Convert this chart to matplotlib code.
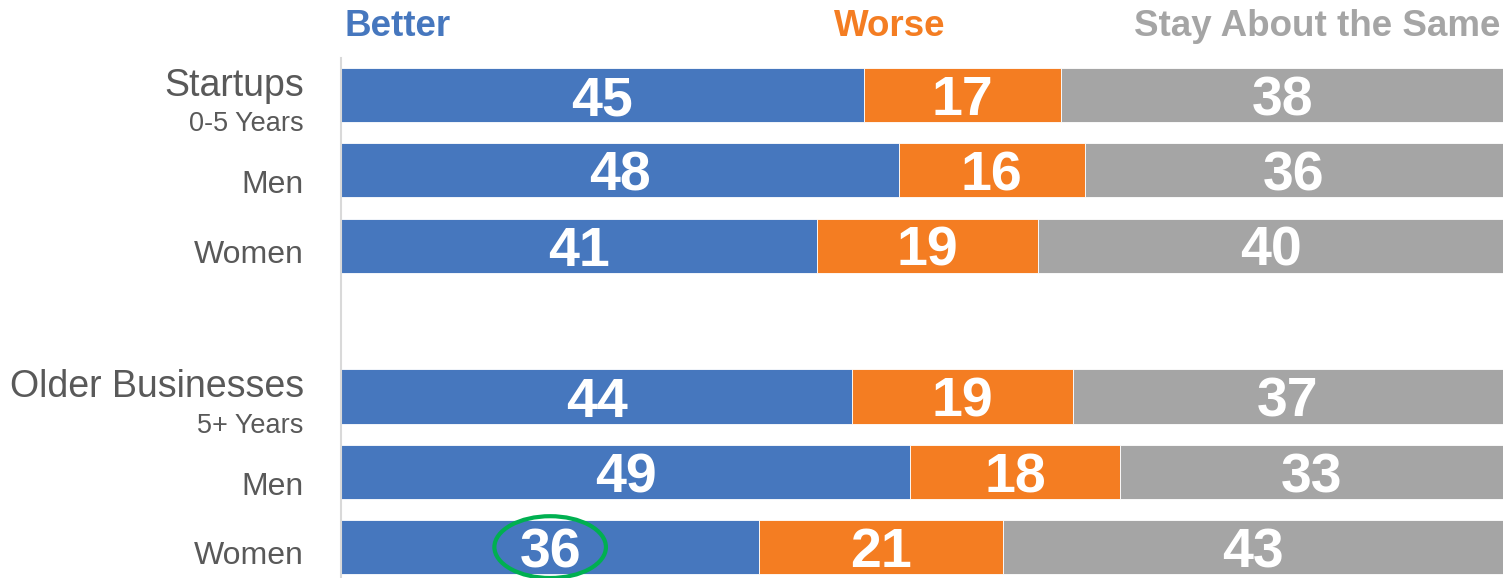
import matplotlib.pyplot as plt
from matplotlib.patches import Ellipse

plt.rcParams['font.family'] = ['Liberation Sans', 'DejaVu Sans']

# rows, top to bottom (position 3 is the gap between groups)
rowPos = [0, 1, 2, 4, 5, 6]
rowLabels = ["Startups", "Men", "Women", "Older Businesses", "Men", "Women"]
subLabels = {0: "0-5 Years", 3: "5+ Years"}
better = [45, 48, 41, 44, 49, 36]
worse = [17, 16, 19, 19, 18, 21]
same = [38, 36, 40, 37, 33, 43]
seriesNames = ["Better", "Worse", "Stay About the Same"]
colors = ["#4677BE", "#F47D22", "#A5A5A5"]
textGray = "#595959"

fig = plt.figure(figsize=(15.11, 5.78), dpi=100)
ax = fig.add_axes([341 / 1511, 0, 1162 / 1511, 520 / 578])

left = [0] * len(rowPos)
for vals, col in zip([better, worse, same], colors):
    ax.barh(rowPos, vals, left=left, height=0.72, color=col, edgecolor="white", linewidth=0.6)
    for y, l, v in zip(rowPos, left, vals):
        ax.text(l + v / 2, y + 0.27, str(v), ha="center", va="baseline", color="white",
                fontsize=40, fontweight="bold")
    left = [a + b for a, b in zip(left, vals)]

ax.set_xlim(0, 100)
ax.set_ylim(6.41, -0.49)
ax.set_xticks([])
ax.set_yticks([])
for s in ["top", "right", "bottom"]:
    ax.spines[s].set_visible(False)
ax.spines["left"].set_color("#D9D9D9")
ax.spines["left"].set_linewidth(1.5)

# row labels
for i, (y, lab) in enumerate(zip(rowPos, rowLabels)):
    if i in subLabels:
        ax.text(-3.2, y + 0.01, lab, ha="right", va="baseline", fontsize=27, color=textGray)
        ax.text(-3.2, y + 0.48, subLabels[i], ha="right", va="baseline",
                fontsize=19.5, color=textGray)
    else:
        dy = 0.305 if lab == "Men" else 0.225
        ax.text(-3.2, y + dy, lab, ha="right", va="baseline", fontsize=23, color=textGray)

# header
hy = -0.78
ax.text(0.3, hy, seriesNames[0], ha="left", va="baseline", fontsize=26.5,
        fontweight="bold", color=colors[0], clip_on=False)
ax.text(47.2, hy, seriesNames[1], ha="center", va="baseline", fontsize=26.5,
        fontweight="bold", color=colors[1], clip_on=False)
ax.text(99.8, hy, seriesNames[2], ha="right", va="baseline", fontsize=26.5,
        fontweight="bold", color=colors[2], clip_on=False)

# highlight circle
ax.add_patch(Ellipse((better[5] / 2, rowPos[5]), 9.6, 0.82, fill=False,
                     edgecolor="#00B050", linewidth=3, clip_on=False))

fig.savefig("out.png", dpi=100)
